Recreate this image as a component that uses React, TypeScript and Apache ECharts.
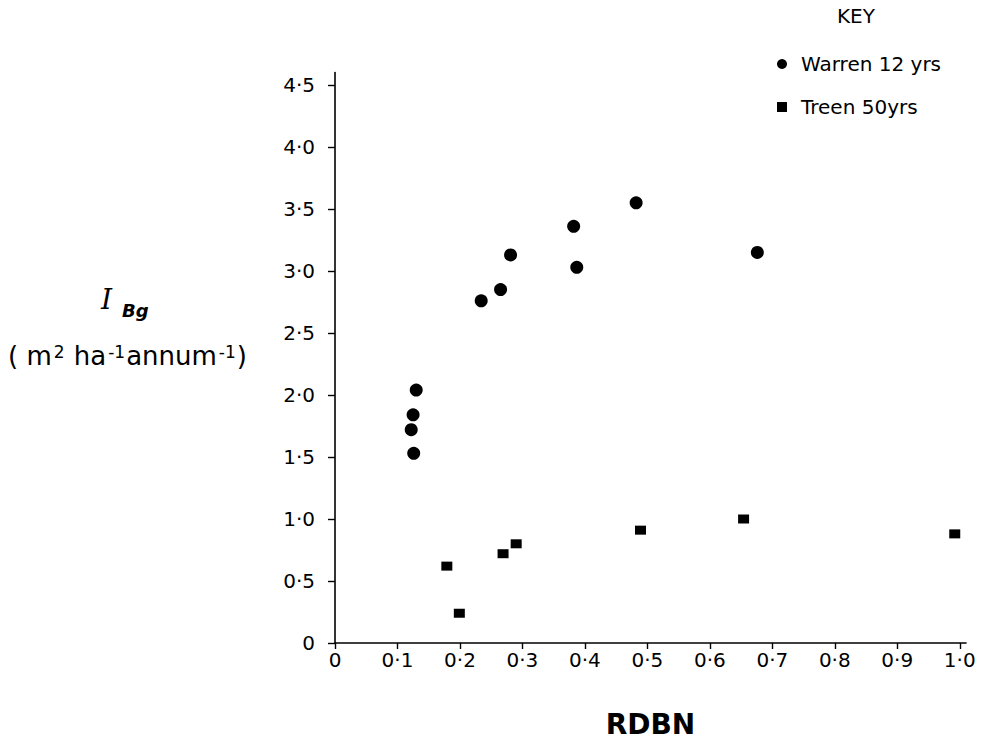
import React, { useEffect, useRef } from "react";
import * as echarts from "echarts";

const warrenX = [0.13, 0.125, 0.122, 0.126, 0.234, 0.265, 0.281, 0.382, 0.387, 0.482, 0.676];
const warrenY = [2.04, 1.84, 1.72, 1.53, 2.76, 2.85, 3.13, 3.36, 3.03, 3.55, 3.15];
const treenX = [0.179, 0.199, 0.269, 0.29, 0.489, 0.654, 0.992];
const treenY = [0.62, 0.24, 0.72, 0.8, 0.91, 1.0, 0.88];
const xTicks = [0, 0.1, 0.2, 0.3, 0.4, 0.5, 0.6, 0.7, 0.8, 0.9, 1.0];
const yTicks = [0, 0.5, 1.0, 1.5, 2.0, 2.5, 3.0, 3.5, 4.0, 4.5];
const seriesNames = ["Warren 12 yrs", "Treen 50yrs"];

const FONT = "DejaVu Sans";

function fmt(v: number): string {
  if (v === 0) return "0";
  return v.toFixed(1).replace(".", "·");
}

export default function App() {
  const ref = useRef<HTMLDivElement>(null);
  useEffect(() => {
    if (!ref.current) return;
    const chart = echarts.init(ref.current, null, { renderer: "svg" });
    const axisLine = { show: true, lineStyle: { color: "#000", width: 1.6 } };
    const tickStyle = { color: "#000", width: 1.4 };
    chart.setOption({
      animation: false,
      backgroundColor: "#fff",
      grid: { left: 335, right: 19, top: 72.6, bottom: 105, containLabel: false },
      xAxis: {
        type: "value",
        min: 0,
        max: 1.01,
        axisLine,
        splitLine: { show: false },
        axisTick: { show: true, length: 6, lineStyle: tickStyle, customValues: xTicks },
        axisLabel: {
          customValues: xTicks,
          formatter: (v: number) => fmt(v),
          color: "#000",
          fontFamily: FONT,
          fontSize: 20,
          margin: 7,
        },
        name: "RDBN",
        nameLocation: "middle",
        nameGap: 67,
        nameTextStyle: { fontFamily: FONT, fontWeight: "bold", fontSize: 28, color: "#000" },
      },
      yAxis: {
        type: "value",
        min: 0,
        max: 4.6,
        axisLine,
        splitLine: { show: false },
        axisTick: { show: true, length: 7, lineStyle: tickStyle, customValues: yTicks },
        axisLabel: {
          customValues: yTicks,
          formatter: (v: number) => fmt(v),
          color: "#000",
          fontFamily: FONT,
          fontSize: 20,
          margin: 20,
        },
      },
      legend: {
        orient: "vertical",
        left: 772,
        top: 49,
        itemGap: 23,
        itemWidth: 10,
        itemHeight: 10,
        textStyle: { fontFamily: FONT, fontSize: 20, color: "#000", padding: [0, 0, 0, 9] },
        data: [
          { name: seriesNames[0], icon: "circle" },
          { name: seriesNames[1], icon: "rect" },
        ],
      },
      series: [
        {
          name: seriesNames[0],
          type: "scatter",
          symbol: "circle",
          symbolSize: 13,
          itemStyle: { color: "#000", opacity: 1 },
          data: warrenX.map((x, i) => [x, warrenY[i]]),
        },
        {
          name: seriesNames[1],
          type: "scatter",
          symbol: "rect",
          symbolSize: [11, 9],
          itemStyle: { color: "#000", opacity: 1 },
          data: treenX.map((x, i) => [x, treenY[i]]),
        },
      ],
      graphic: [
        {
          type: "text",
          left: 837,
          top: 6,
          style: { text: "KEY", fontFamily: FONT, fontSize: 20, fill: "#000" },
        },
        {
          type: "text",
          left: 101,
          top: 285,
          style: {
            text: "I",
            fontFamily: "DejaVu Serif",
            fontStyle: "italic",
            fontSize: 28,
            fill: "#000",
          },
        },
        {
          type: "text",
          left: 122,
          top: 301,
          style: {
            text: "Bg",
            fontFamily: FONT,
            fontStyle: "italic",
            fontWeight: "bold",
            fontSize: 18,
            fill: "#000",
          },
        },
        {
          type: "text",
          left: 8,
          top: 343,
          style: {
            text: "( m{sup|2} ha{sup|-1}annum{sup|-1})",
            fontFamily: FONT,
            fontSize: 26,
            fill: "#000",
            rich: {
              sup: {
                fontFamily: FONT,
                fontSize: 17,
                verticalAlign: "top",
                fill: "#000",
                padding: [0, 1, 0, 2],
              },
            },
          },
        },
      ],
    });
    return () => chart.dispose();
  }, []);
  return <div ref={ref} style={{ width: 985, height: 748, marginTop: -8, marginLeft: -8 }} />;
}
